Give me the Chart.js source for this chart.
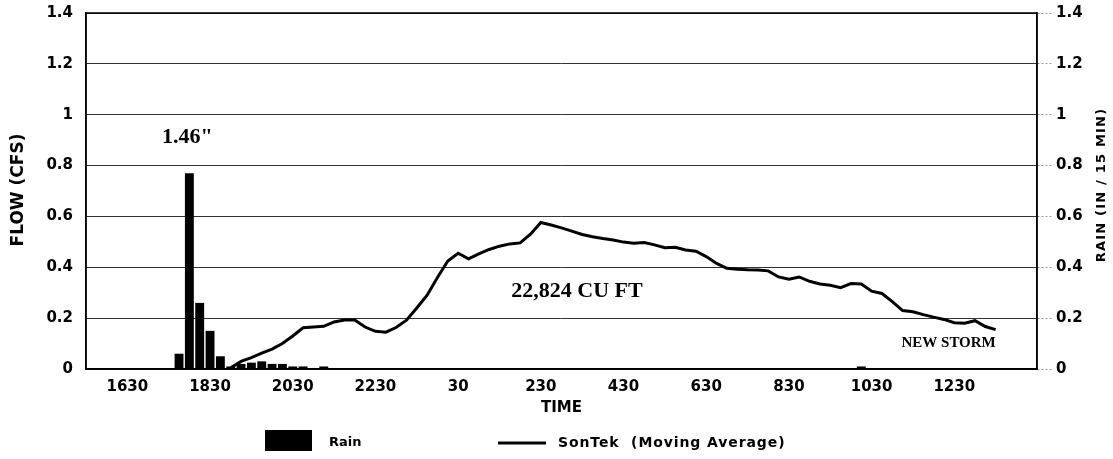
<!DOCTYPE html>
<html>
<head>
<meta charset="utf-8">
<script src="https://cdn.jsdelivr.net/npm/chart.js@4.4.1/dist/chart.umd.min.js"></script>
<style>
  html, body { margin: 0; padding: 0; background: #fff; }
  #wrap { position: relative; width: 1113px; height: 459px; }
</style>
</head>
<body>
<div id="wrap"><canvas id="flowChart"></canvas></div>
<script>
// 15 minute steps, 1530 through 1430 next day
const times = [];
for (let k = 0; k < 93; k++) {
    const t = (15 * 60 + 30 + k * 15) % (24 * 60);
    times.push(String(Math.floor(t / 60) * 100 + (t % 60)));
}
const tickLabels = ['1630', '1830', '2030', '2230', '30', '230', '430', '630', '830', '1030', '1230'];

// rain, in / 15 min (right axis)
const rain = [
    0, 0, 0, 0, 0, 0, 0, 0, 0, 0.06,
    0.77, 0.26, 0.15, 0.05, 0.01, 0.02, 0.025, 0.03, 0.02, 0.02,
    0.01, 0.01, 0, 0.01, 0, 0, 0, 0, 0, 0,
    0, 0, 0, 0, 0, 0, 0, 0, 0, 0,
    0, 0, 0, 0, 0, 0, 0, 0, 0, 0,
    0, 0, 0, 0, 0, 0, 0, 0, 0, 0,
    0, 0, 0, 0, 0, 0, 0, 0, 0, 0,
    0, 0, 0, 0, 0, 0.01, 0, 0, 0, 0,
    0, 0, 0, 0, 0, 0, 0, 0, 0, 0,
    0, 0, 0
];

// SonTek moving average flow, cfs (left axis)
const flow = [
    null, null, null, null, null, null, null, null, null, null,
    null, null, null, null, 0.005, 0.03, 0.045, 0.062, 0.078, 0.10,
    0.13, 0.162, 0.165, 0.168, 0.185, 0.193, 0.193, 0.165, 0.148, 0.145,
    0.163, 0.192, 0.24, 0.29, 0.36, 0.425, 0.455, 0.433, 0.453, 0.47,
    0.483, 0.492, 0.496, 0.53, 0.576, 0.566, 0.555, 0.542, 0.529, 0.52,
    0.513, 0.507, 0.499, 0.495, 0.497, 0.488, 0.477, 0.479, 0.468, 0.463,
    0.442, 0.415, 0.396, 0.392, 0.39, 0.389, 0.386, 0.362, 0.353, 0.362,
    0.345, 0.334, 0.329, 0.32, 0.336, 0.334, 0.306, 0.297, 0.265, 0.23,
    0.225, 0.214, 0.204, 0.195, 0.182, 0.18, 0.19, 0.167, 0.155, null,
    null, null, null
];

const SANS = '"DejaVu Sans", sans-serif';
const SERIF = '"Liberation Serif", "Times New Roman", serif';

const fmtTick = v => String(+Number(v).toFixed(1));

// titles, notes and legend drawn by hand
const extras = {
    id: 'extras',
    afterDraw(chart) {
        const ctx = chart.ctx;
        const a = chart.chartArea;
        const xs = chart.scales.x, ys = chart.scales.y;

        // plot frame
        ctx.save();
        ctx.strokeStyle = '#000';
        ctx.lineWidth = 1.5;
        ctx.strokeRect(a.left, a.top, a.right - a.left, a.bottom - a.top);
        ctx.restore();

        ctx.save();
        ctx.fillStyle = '#000';
        ctx.textAlign = 'center';
        ctx.textBaseline = 'middle';

        ctx.save();
        ctx.translate(19, 190);
        ctx.rotate(-Math.PI / 2);
        ctx.font = 'bold 17px ' + SANS;
        ctx.fillText('FLOW (CFS)', 0, 0);
        ctx.restore();

        ctx.save();
        ctx.translate(1102, 185);
        ctx.rotate(-Math.PI / 2);
        ctx.font = 'bold 13px ' + SANS;
        ctx.letterSpacing = '1.2px';
        ctx.fillText('RAIN (IN / 15 MIN)', 0, 0);
        ctx.restore();

        ctx.font = 'bold 15px ' + SANS;
        ctx.fillText('TIME', (a.left + a.right) / 2, 408);

        ctx.font = 'bold 22px ' + SERIF;
        ctx.fillText('1.46"', xs.getPixelForValue(9.8), ys.getPixelForValue(0.91));
        ctx.fillText('22,824 CU FT', xs.getPixelForValue(47.5), ys.getPixelForValue(0.306));
        ctx.font = 'bold 15px ' + SERIF;
        ctx.fillText('NEW STORM', xs.getPixelForValue(83.45), ys.getPixelForValue(0.102));

        // legend
        ctx.fillRect(265, 430, 47, 21);
        ctx.fillRect(498, 441.5, 48, 3);
        ctx.textAlign = 'left';
        ctx.font = 'bold 13px ' + SANS;
        ctx.fillText('Rain', 329, 443);
        ctx.font = 'bold 14px ' + SANS;
        ctx.letterSpacing = '0.9px';
        ctx.fillText('SonTek  (Moving Average)', 558, 443);
        ctx.restore();
    }
};

new Chart(document.getElementById('flowChart').getContext('2d'), {
    type: 'bar',
    data: {
        labels: times,
        datasets: [
            {
                type: 'line',
                label: 'SonTek  (Moving Average)',
                data: flow,
                yAxisID: 'y',
                borderColor: '#000',
                borderWidth: 3,
                pointRadius: 0,
                tension: 0,
                order: 0
            },
            {
                type: 'bar',
                label: 'Rain',
                data: rain,
                yAxisID: 'y1',
                backgroundColor: '#000',
                barPercentage: 0.86,
                categoryPercentage: 1,
                order: 1
            }
        ]
    },
    options: {
        responsive: true,
        maintainAspectRatio: false,
        animation: false,
        layout: { padding: { top: 13, left: 0, right: 0, bottom: 0 } },
        plugins: {
            legend: { display: false },
            tooltip: { enabled: false }
        },
        scales: {
            x: {
                offset: false,
                grid: { display: false, offset: false, drawTicks: false },
                border: { display: true, color: '#000', width: 1.5 },
                ticks: {
                    autoSkip: false,
                    maxRotation: 0,
                    minRotation: 0,
                    padding: 9,
                    color: '#000',
                    font: { family: SANS, size: 15, weight: 'bold' },
                    callback: (v, i) => tickLabels.includes(times[i]) ? times[i] : ''
                },
                afterFit: s => { s.height = 90; s.paddingLeft = 0; s.paddingRight = 0; }
            },
            y: {
                position: 'left',
                min: 0,
                max: 1.4,
                ticks: {
                    stepSize: 0.2,
                    padding: 13,
                    color: '#000',
                    font: { family: SANS, size: 15, weight: 'bold' },
                    callback: fmtTick
                },
                grid: { color: '#333', lineWidth: 1, drawTicks: false },
                border: { display: true, color: '#000', width: 1.5 },
                afterFit: s => { s.width = 86; s.paddingTop = 0; s.paddingBottom = 0; }
            },
            y1: {
                position: 'right',
                min: 0,
                max: 1.4,
                ticks: {
                    stepSize: 0.2,
                    padding: 4,
                    color: '#000',
                    font: { family: SANS, size: 15, weight: 'bold' },
                    callback: fmtTick
                },
                grid: {
                    drawOnChartArea: false,
                    drawTicks: true,
                    tickLength: 15,
                    tickColor: '#999',
                    tickWidth: 1,
                    tickBorderDash: [2, 2]
                },
                border: { display: true, color: '#000', width: 1.5 },
                afterFit: s => { s.width = 76; s.paddingTop = 0; s.paddingBottom = 0; }
            }
        }
    },
    plugins: [extras]
});
</script>
</body>
</html>
